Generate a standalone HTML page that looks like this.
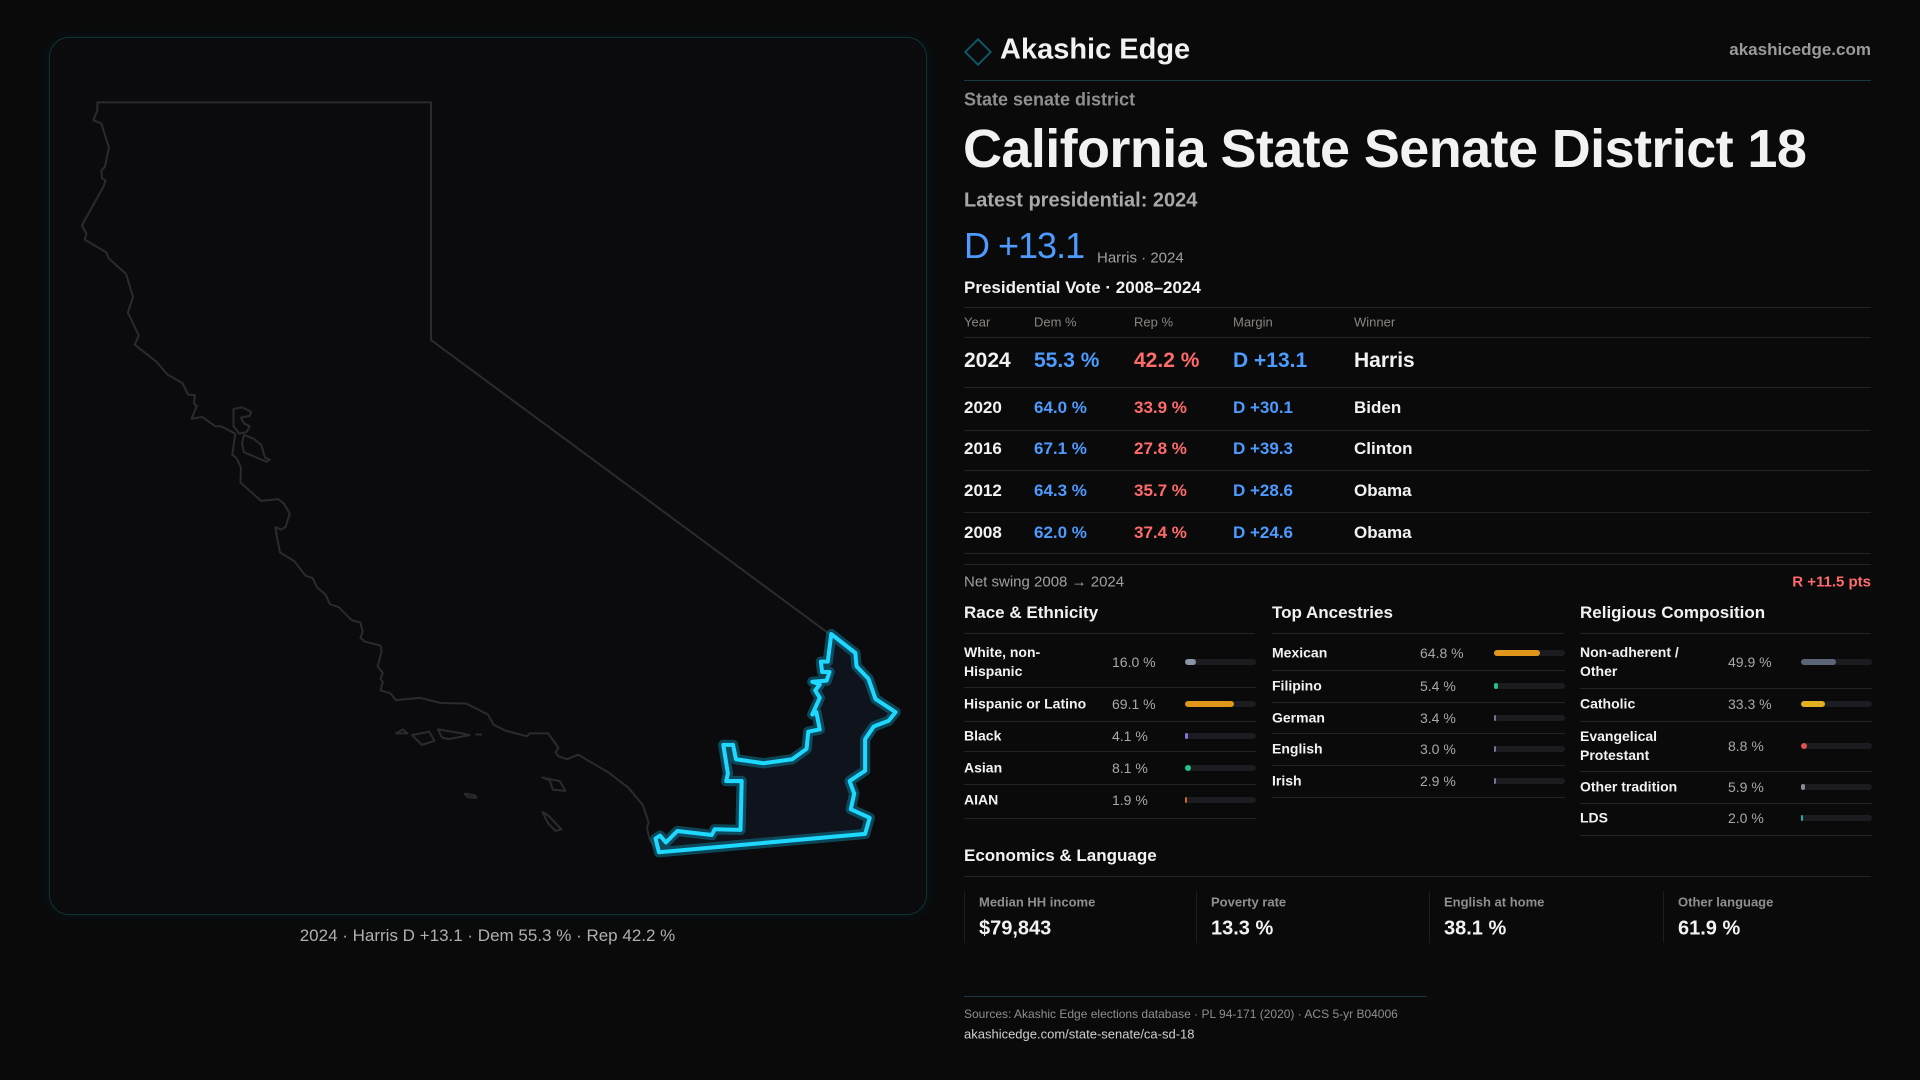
<!DOCTYPE html>
<html><head><meta charset="utf-8">
<style>
*{margin:0;padding:0;box-sizing:border-box}
body{width:1920px;height:1080px;background:#0a0a0b;font-family:"Liberation Sans",sans-serif;color:#f2f2f2;position:relative;overflow:hidden}
.a{position:absolute;white-space:nowrap}
.c{transform:translateY(-50%)}
.ln{position:absolute;height:1px;background:#232326}
.g{color:#8f8f8f}
.blue{color:#4d9bff}.red{color:#ff6b6b}
</style></head><body>
<div style="position:absolute;left:49px;top:37px;width:878px;height:878px;border:1px solid #113139;border-radius:20px;background:#0b0b0d;box-shadow:0 0 14px rgba(0,180,220,0.08)"></div>
<svg style="position:absolute;left:0;top:0" width="1920" height="1080">
<g transform="translate(40,30) scale(0.5742)" fill="none" stroke="#2b2b2e" stroke-width="3.5" stroke-linejoin="round">
<path d="M100,126 L681,126 L681,540 L1375,1052 L1420,1085 L1422,1108 L1443,1130 L1455,1165 L1490,1188 L1478,1203 L1452,1213 L1437,1235 L1437,1290 L1410,1308 L1418,1330 L1412,1357 L1445,1372 L1437,1400 L1078,1432 L1062,1410 L1057,1390 L1060,1380 L1050,1350 L1025,1320 L990,1293 L937,1262 L918,1270 L903,1265 L898,1258 L903,1250 L885,1225 L853,1225 L848,1230 L810,1220 L790,1210 L780,1192 L742,1173 L697,1172 L662,1163 L620,1167 L610,1155 L593,1150 L597,1135 L593,1130 L597,1120 L588,1108 L595,1082 L593,1072 L565,1065 L558,1058 L562,1048 L558,1032 L543,1028 L520,1005 L505,1000 L497,983 L482,970 L475,955 L462,950 L443,925 L418,910 L412,880 L410,866 L420,870 L428,865 L435,842 L425,825 L415,817 L385,820 L349,788 L350,762 L342,745 L335,740 L340,703 L315,690 L305,690 L283,674 L264,677 L273,655 L268,650 L270,636 L258,635 L248,615 L222,600 L203,578 L165,548 L172,532 L153,492 L162,465 L150,425 L120,398 L115,387 L78,365 L81,355 L73,340 L111,272 L114,262 L108,258 L107,245 L113,238 L120,205 L107,163 L93,157 L100,140 Z"/>
<path d="M337,660 L352,657 L368,665 L365,672 L350,675 L355,685 L365,690 L360,700 L347,703 L337,690 Z M355,705 L372,712 L385,722 L392,745 L400,748 L395,752 L378,745 L355,735 L352,720 Z"/>
<path d="M620,1225 L632,1218 L640,1225 Z M648,1228 L678,1222 L687,1238 L665,1245 Z M693,1218 L735,1225 L748,1228 L712,1235 L700,1232 Z M758,1227 L770,1227 M875,1302 L905,1308 L915,1325 L893,1323 L888,1307 Z M740,1330 L757,1333 L760,1337 L745,1336 Z M875,1362 L885,1368 L908,1392 L898,1395 L885,1382 Z"/>
<path d="M1378,1052 L1420,1085 L1422,1108 L1443,1130 L1455,1165 L1490,1188 L1478,1203 L1452,1213 L1437,1235 L1437,1290 L1410,1308 L1418,1330 L1412,1357 L1445,1372 L1437,1400 L1078,1432 L1072,1408 L1080,1403 L1090,1415 L1110,1395 L1170,1402 L1175,1392 L1220,1393 L1222,1308 L1195,1308 L1198,1295 L1190,1245 L1207,1245 L1212,1270 L1260,1277 L1310,1270 L1335,1252 L1338,1222 L1358,1218 L1352,1188 L1345,1192 L1358,1163 L1350,1150 L1358,1140 L1345,1135 L1370,1133 L1375,1118 L1362,1118 L1360,1100 L1372,1100 Z" fill="#0f131c" stroke="#0a8fb0" stroke-width="18" stroke-opacity="0.45"/>
<path d="M1378,1052 L1420,1085 L1422,1108 L1443,1130 L1455,1165 L1490,1188 L1478,1203 L1452,1213 L1437,1235 L1437,1290 L1410,1308 L1418,1330 L1412,1357 L1445,1372 L1437,1400 L1078,1432 L1072,1408 L1080,1403 L1090,1415 L1110,1395 L1170,1402 L1175,1392 L1220,1393 L1222,1308 L1195,1308 L1198,1295 L1190,1245 L1207,1245 L1212,1270 L1260,1277 L1310,1270 L1335,1252 L1338,1222 L1358,1218 L1352,1188 L1345,1192 L1358,1163 L1350,1150 L1358,1140 L1345,1135 L1370,1133 L1375,1118 L1362,1118 L1360,1100 L1372,1100 Z" stroke="#1ed8ff" stroke-width="7"/>
</g></svg>
<div class="a c g" style="left:0;width:975px;text-align:center;top:936px;font-size:17px;color:#b0b0b0">2024 · Harris D +13.1 · Dem 55.3 % · Rep 42.2 %</div>

<div style="position:absolute;left:968px;top:42px;width:20px;height:20px;border:2px solid #0e5663;transform:rotate(45deg)"></div>
<div class="a c" style="left:1000px;top:50px;font-size:29px;font-weight:600">Akashic Edge</div>
<div class="a c" style="right:49px;top:50px;font-size:17px;color:#9a9a9a;font-weight:600">akashicedge.com</div>
<div class="ln" style="left:964px;width:907px;top:80px;background:#173a41"></div>
<div class="a c" style="left:964px;top:100px;font-size:18px;color:#8f8f8f;font-weight:600">State senate district</div>
<div class="a c" style="left:963px;top:149px;font-size:54px;font-weight:700;letter-spacing:-0.6px">California State Senate District 18</div>
<div class="a c" style="left:964px;top:201px;font-size:20px;color:#a8a8a8;font-weight:600">Latest presidential: 2024</div>
<div class="a c blue" style="left:964px;top:246px;font-size:36px;letter-spacing:-1px">D +13.1</div>
<div class="a c" style="left:1097px;top:258px;font-size:15px;color:#a0a0a0">Harris · 2024</div>
<div class="a c" style="left:964px;top:288px;font-size:17px;font-weight:600">Presidential Vote · 2008–2024</div>
<div class="ln" style="left:964px;width:907px;top:307px"></div>
<div class="ln" style="left:964px;width:907px;top:564px"></div>
<div class="a c" style="left:964px;top:582px;font-size:15px;color:#a0a0a0">Net swing 2008 → 2024</div>
<div class="a c red" style="right:49px;top:582px;font-size:15px;font-weight:600">R +11.5 pts</div>

<div class="a c" style="left:964px;top:856px;font-size:17px;font-weight:600">Economics &amp; Language</div>
<div class="ln" style="left:964px;width:907px;top:876px"></div>
<div class="ln" style="left:964px;width:463px;top:996px;background:#173a41"></div>
<div class="a c" style="left:964px;top:1014px;font-size:12px;color:#8f8f8f">Sources: Akashic Edge elections database · PL 94-171 (2020) · ACS 5-yr B04006</div>
<div class="a c" style="left:964px;top:1034px;font-size:13px;color:#cfcfcf">akashicedge.com/state-senate/ca-sd-18</div>

<script>
const years=["2024","2020","2016","2012","2008"];
const demPct=[55.3,64.0,67.1,64.3,62.0];
const repPct=[42.2,33.9,27.8,35.7,37.4];
const winners=["Harris","Biden","Clinton","Obama","Obama"];

const raceLabels=["White, non-<br>Hispanic","Hispanic or Latino","Black","Asian","AIAN"];
const raceValues=[16.0,69.1,4.1,8.1,1.9];
const ancLabels=["Mexican","Filipino","German","English","Irish"];
const ancValues=[64.8,5.4,3.4,3.0,2.9];
const relLabels=["Non-adherent /<br>Other","Catholic","Evangelical<br>Protestant","Other tradition","LDS"];
const relValues=[49.9,33.3,8.8,5.9,2.0];

const econLabels=["Median HH income","Poverty rate","English at home","Other language"];
const econValues=["$79,843","13.3 %","38.1 %","61.9 %"];

function mk(parent,cls,style,html){const d=document.createElement('div');d.className=cls;d.style.cssText=style;d.innerHTML=html;parent.appendChild(d);return d;}
const body=document.body;
const hdrX=[964,1034,1134,1233,1354],hdr=["Year","Dem %","Rep %","Margin","Winner"];
hdr.forEach((h,i)=>{const e=mk(body,'a c',`left:${hdrX[i]}px;top:322px;font-size:13px;color:#8a8580`,h);

});
mk(body,'ln','left:964px;width:907px;top:337px','');
const rowY=[361,408,449,491,533],lineY=[387,430,470,512,553];
years.forEach((y,i)=>{
 const big=i===0, fs=big?21:17, fw=600;
 const m=(demPct[i]-repPct[i]);
 const cells=[[y,'#f2f2f2'],[demPct[i].toFixed(1)+' %','#4d9bff'],[repPct[i].toFixed(1)+' %','#ff6b6b'],[(m>=0?'D +':'R +')+Math.abs(m).toFixed(1),'#4d9bff'],[winners[i],'#f2f2f2']];
 cells.forEach((c,j)=>{const e=mk(body,'a c',`left:${hdrX[j]}px;top:${rowY[i]}px;font-size:${fs}px;font-weight:${fw};color:${c[1]}`,c[0]);
 
 });
 mk(body,'ln',`left:964px;width:907px;top:${lineY[i]}px`,'');
});
function col(x,title,labels,values,colors,centers,lines,valX,barX){
 const t=mk(body,'a c',`left:${x}px;top:613px;font-size:17px;font-weight:600`,title);
 
 
 mk(body,'ln',`left:${x}px;width:${barX+70-x}px;top:633px`,'');
 labels.forEach((l,i)=>{
  const lb=mk(body,'a c',`left:${x}px;top:${centers[i]}px;font-size:14px;font-weight:600;line-height:19px`,l);
  
  
  const v=mk(body,'a c',`left:${valX}px;top:${centers[i]}px;font-size:14px;color:#a8a8a8`,values[i].toFixed(1)+' %');
  
  
  const tr=mk(body,'a',`left:${barX}px;top:${centers[i]-3}px;width:71px;height:6px;border-radius:3px;background:#1c1c20`,'');
  
  
  const w=Math.max(2,values[i]/100*71);
  const b=mk(body,'a',`left:${barX}px;top:${centers[i]-3}px;width:${w}px;height:6px;border-radius:3px;background:${colors[i]}`,'');
  
  
  mk(body,'ln',`left:${x}px;width:${barX+71-x}px;top:${lines[i]}px`,'');
 });
}
col(964,"Race &amp; Ethnicity",raceLabels,raceValues,["#8a94a6","#e0961a","#8b6fd6","#22c08a","#c46a2a"],[662,704,736,768,800],[687,721,751,784,818],1112,1185);
col(1272,"Top Ancestries",ancLabels,ancValues,["#e0961a","#22c08a","#6b7a90","#6b7a90","#6b7a90"],[653,686,718,749,781],[670,702,733,765,797],1420,1494);
col(1580,"Religious Composition",relLabels,relValues,["#5c6478","#e0b020","#e05050","#888c96","#20b0b0"],[662,704,746,787,818],[688,721,771,803,835],1728,1801);
const ex=[964,1196,1429,1663];
econLabels.forEach((l,i)=>{
 mk(body,'a',`left:${ex[i]}px;top:891px;width:1px;height:52px;background:#1e1e21`,'');
 const a=mk(body,'a c',`left:${ex[i]+15}px;top:902px;font-size:13px;color:#8f8f8f;font-weight:600`,l);
 
 
 const b=mk(body,'a c',`left:${ex[i]+15}px;top:929px;font-size:20px;font-weight:700`,econValues[i]);
 
 
});
</script>
</body></html>
